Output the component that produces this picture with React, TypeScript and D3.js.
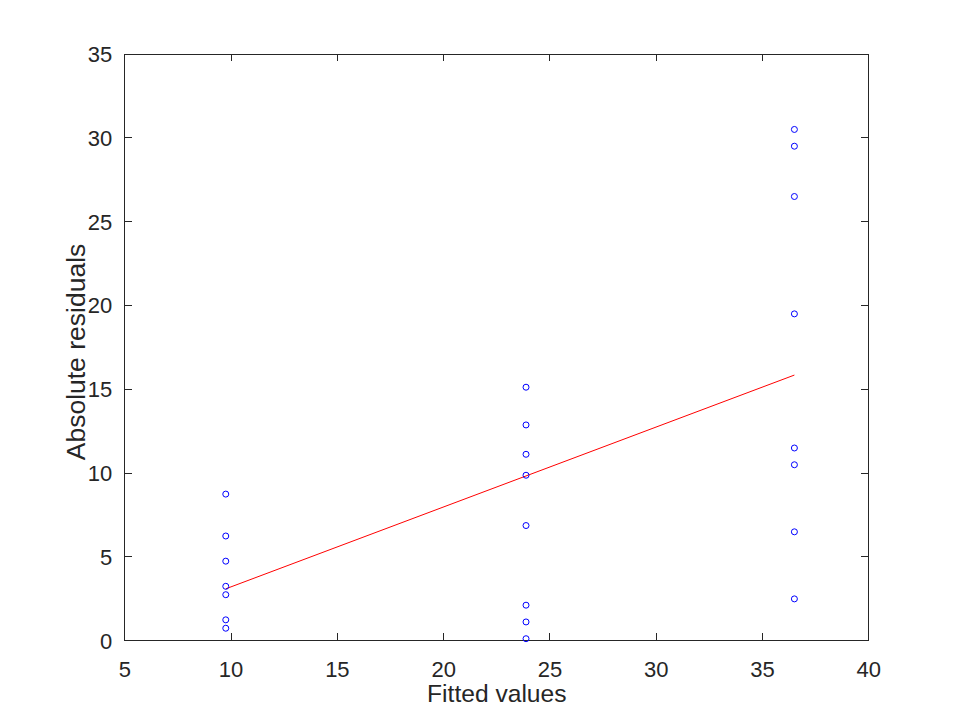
import { useEffect, useRef } from 'react';
import * as d3 from 'd3';

// fitted value of each group and the absolute residuals
const FITTED = [9.75, 23.875, 36.5];
const RESID_LOW = [8.75, 6.25, 4.75, 3.25, 2.75, 1.25, 0.75];
const RESID_MID = [15.125, 12.875, 11.125, 9.875, 6.875, 2.125, 1.125, 0.125];
const RESID_HIGH = [30.5, 29.5, 26.5, 19.5, 11.5, 10.5, 6.5, 2.5];

const TREND_X = [9.75, 36.5];
const TREND_Y = [3.1, 15.85];

const X_TICKS = [5, 10, 15, 20, 25, 30, 35, 40];
const Y_TICKS = [0, 5, 10, 15, 20, 25, 30, 35];

const INK = '#262626';
const FONT = 'Liberation Sans, Arial, Helvetica, sans-serif';

export default function App() {
  const svgRef = useRef<SVGSVGElement>(null);

  useEffect(() => {
    const svg = d3.select(svgRef.current);
    if (!svg.node()) return;
    svg.selectAll('*').remove();

    const width = 960;
    const height = 720;
    const left = 124.8;
    const right = 868.8;
    const top = 54;
    const bottom = 640.8;
    const tickLen = 7.4;

    const x = d3.scaleLinear().domain([5, 40]).range([left, right]);
    const y = d3.scaleLinear().domain([0, 35]).range([bottom, top]);

    svg.attr('width', width).attr('height', height).attr('viewBox', `0 0 ${width} ${height}`);
    svg.append('rect').attr('width', width).attr('height', height).attr('fill', '#fff');

    const g = svg.append('g');

    // box + inward ticks on all four sides
    const axes = g.append('g').attr('stroke', INK).attr('stroke-width', 1).attr('shape-rendering', 'crispEdges');
    axes
      .append('rect')
      .attr('x', left)
      .attr('y', top)
      .attr('width', right - left)
      .attr('height', bottom - top)
      .attr('fill', 'none');

    X_TICKS.forEach((t) => {
      axes.append('line').attr('x1', x(t)).attr('x2', x(t)).attr('y1', bottom).attr('y2', bottom - tickLen);
      axes.append('line').attr('x1', x(t)).attr('x2', x(t)).attr('y1', top).attr('y2', top + tickLen);
    });
    Y_TICKS.forEach((t) => {
      axes.append('line').attr('x1', left).attr('x2', left + tickLen).attr('y1', y(t)).attr('y2', y(t));
      axes.append('line').attr('x1', right).attr('x2', right - tickLen).attr('y1', y(t)).attr('y2', y(t));
    });

    g.append('g')
      .selectAll('text')
      .data(X_TICKS)
      .join('text')
      .attr('x', (d) => x(d))
      .attr('y', 677)
      .attr('text-anchor', 'middle')
      .attr('fill', INK)
      .attr('font-family', FONT)
      .attr('font-size', 22)
      .text((d) => d);

    g.append('g')
      .selectAll('text')
      .data(Y_TICKS)
      .join('text')
      .attr('x', left - 12.5)
      .attr('y', (d) => y(d))
      .attr('dy', '0.36em')
      .attr('text-anchor', 'end')
      .attr('fill', INK)
      .attr('font-family', FONT)
      .attr('font-size', 22)
      .text((d) => d);

    g.append('text')
      .attr('x', (left + right) / 2)
      .attr('y', 701.5)
      .attr('text-anchor', 'middle')
      .attr('fill', INK)
      .attr('font-family', FONT)
      .attr('font-size', 24.6)
      .text('Fitted values');

    g.append('text')
      .attr('transform', `translate(85,352) rotate(-90)`)
      .attr('text-anchor', 'middle')
      .attr('fill', INK)
      .attr('font-family', FONT)
      .attr('font-size', 26.5)
      .text('Absolute residuals');

    // trend line of residuals on fitted values
    const line = d3
      .line<number>()
      .x((d) => x(d))
      .y((_, i) => y(TREND_Y[i]));
    g.append('path')
      .datum(TREND_X)
      .attr('fill', 'none')
      .attr('stroke', '#ff0000')
      .attr('stroke-width', 1)
      .attr('d', line);

    const points = [RESID_LOW, RESID_MID, RESID_HIGH].flatMap((resid, gi) =>
      resid.map((r) => ({ fx: FITTED[gi], r })),
    );
    g.append('g')
      .selectAll('circle')
      .data(points)
      .join('circle')
      .attr('cx', (d) => x(d.fx))
      .attr('cy', (d) => y(d.r))
      .attr('r', 3)
      .attr('fill', 'none')
      .attr('stroke', '#0000ff')
      .attr('stroke-width', 1);
  }, []);

  return (
    <svg
      ref={svgRef}
      style={{ position: 'absolute', left: 0, top: 0, display: 'block' }}
      role="img"
      aria-label="Absolute residuals versus fitted values"
    />
  );
}
